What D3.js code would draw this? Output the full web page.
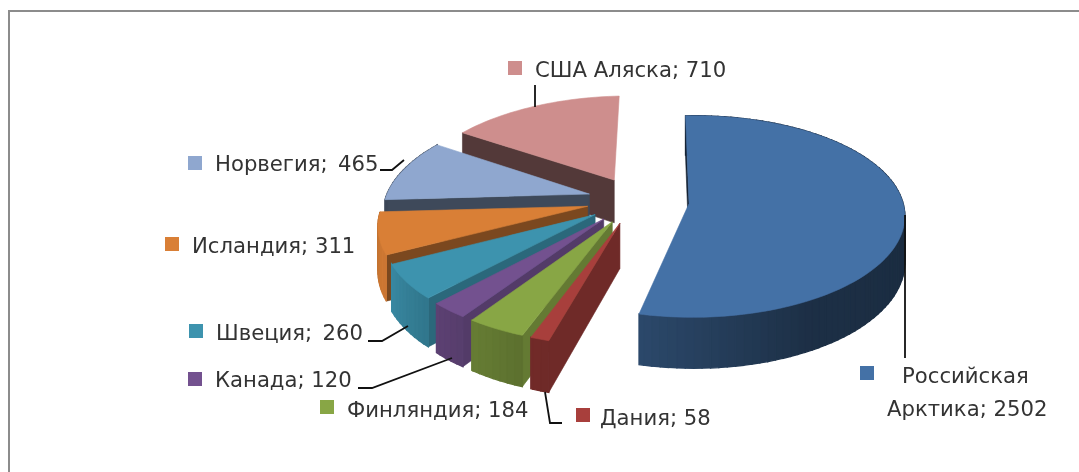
<!DOCTYPE html>
<html><head><meta charset="utf-8">
<script src="https://cdnjs.cloudflare.com/ajax/libs/d3/7.8.5/d3.min.js"></script>
<style>html,body{margin:0;padding:0;background:#fff}svg{display:block;filter:blur(.5px)}</style>
</head><body><svg id="c" width="1079" height="472"></svg>
<script>
const categories=["Российская Арктика","Дания","Финляндия","Канада","Швеция","Исландия","Норвегия","США Аляска"];
const values=[2502,58,184,120,260,311,465,710];
const colors=["#4471A6","#A83F3C","#88A645","#73518F","#3D93AE","#D97F36","#8FA7CF","#CE8E8D"];
const labelLines=[["Российская","Арктика; 2502"],["Дания; 58"],["Финляндия; 184"],["Канада; 120"],["Швеция;  260"],["Исландия; 311"],["Норвегия;  465"],["США Аляска; 710"]];
const labelX=[[902,887],[600],[347],[215],[216],[192],[215],[535]];
const labelY=[[383,416],[425],[417],[387],[340],[253],[171],[77]];
const swatchX=[860,576,320,188,189,165,188,508];
const swatchY=[366,408,400,372,324,237,156,61];
const leaders=[[[905,215],[905,358]],[[545,392],[550,423],[562,423]],[],[[358,388],[372,388],[452,358]],[[368,341],[382,341],[408,326]],[],[[380,170],[392,170],[404,160]],[[535,85],[535,107]]];
// small per-slice adjustments of the 3D view
const insetStart=[0,0,0,0,0,0,0,0];
const insetEnd=[2.2,0,0,0,0,0,0,0];
const shiftX=[.018,0,0,0,0,0,0,0];
const shiftZ=[.01,0,0,0,0,0,0,0];
const radiusX=[.985,1,1,1,1,1,1,1];
const radiusZ=[.977,1,1,1,1,1,1,1];

const svg=d3.select("#c");
const cx=636,cy=200,R=210,Rt=100,k=0.13,kx=0.02,shear=0.04,H=44,explode=0.235;
const rad=d=>d*Math.PI/180;
const pie=d3.pie().sort(null).startAngle(rad(-1.5)).endAngle(rad(358.5));
const arcs=pie(values);
function proj(X,Z,h){const w=1/(1-k*Z-kx*X);return [cx+R*(X-shear*Z)*w,cy+Rt*Z*w+(h?H*w:0)];}
const rimShade=d3.scaleLinear().domain([90,150,195,225,245,266,267,360]).range([.38,.42,.66,.82,.95,.85,.42,.42]).clamp(true);
const wallShade=d3.scaleLinear().domain([-2,190,200,215,225,245,270,305]).range([.3,.6,.76,.72,.7,.55,.42,.4]).clamp(true);
const line=d3.line();
const dark=(c,f)=>d3.interpolateRgb("#000",c)(f);
function poly(pts,fill,sw){svg.append("path").attr("d",line(pts)+"Z").attr("fill",fill).attr("stroke",fill).attr("stroke-width",sw||.6);}
[7,6,5,4,3,2,1,0].forEach(i=>{
  const a=arcs[i],col=colors[i],mid=(a.startAngle+a.endAngle)/2;
  const ox=Math.sin(mid)*explode+shiftX[i],oz=-Math.cos(mid)*explode+shiftZ[i];
  const s0=a.startAngle+rad(insetStart[i]),e0=a.endAngle-rad(insetEnd[i]);
  const P=(ang,r,h)=>proj(ox+r*radiusX[i]*Math.sin(ang),oz-r*radiusZ[i]*Math.cos(ang),h);
  const wall=ang=>poly([P(ang,0,0),P(ang,1,0),P(ang,1,1),P(ang,0,1)],dark(col,wallShade(ang*180/Math.PI)));
  const angs=d3.range(s0,e0,rad(2)).concat([e0]);
  const facets=d3.pairs(angs).sort((p,q)=>(-Math.cos(p[0]))-(-Math.cos(q[0])));
  const facet=([s,t])=>poly([P(s,1,0),P(t,1,0),P(t,1,1),P(s,1,1)],dark(col,rimShade((s+t)*90/Math.PI)),1.3);
  if(i!==7)facets.filter(f=>Math.cos((f[0]+f[1])/2)>0).forEach(facet);
  wall(s0);
  facets.filter(f=>Math.cos((f[0]+f[1])/2)<=0).forEach(facet);
  poly([P(s0,0,0)].concat(angs.map(t=>P(t,1,0))),col);
});
leaders.forEach(l=>{if(l.length)svg.append("path").attr("d",line(l)).attr("fill","none").attr("stroke","#111").attr("stroke-width",1.8);});
categories.forEach((c,i)=>{
  svg.append("rect").attr("x",swatchX[i]).attr("y",swatchY[i]).attr("width",14).attr("height",14).attr("fill",colors[i]);
  labelLines[i].forEach((t,j)=>{
    svg.append("text").attr("x",labelX[i][j]).attr("y",labelY[i][j]).style("white-space","pre")
      .style("word-spacing",t.includes("  ")?"-1.6px":null)
      .attr("font-family","'DejaVu Sans'").attr("font-size",21.2).attr("fill","#333").text(t);
  });
});
svg.append("path").attr("d",line([[9,472],[9,11],[1079,11]])).attr("fill","none").attr("stroke","#8c8c8c").attr("stroke-width",2);
</script></body></html>
